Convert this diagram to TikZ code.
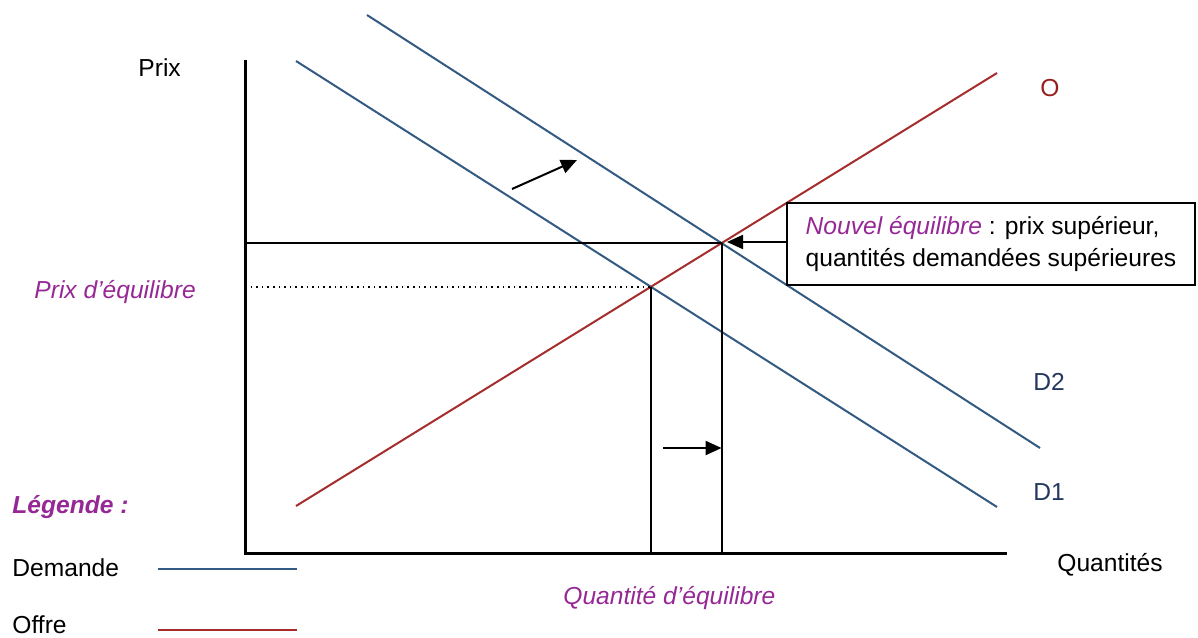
\documentclass[tikz,border=0pt]{standalone}
\usepackage{fontspec}
\setmainfont{Liberation Sans}
\usetikzlibrary{arrows.meta}
\definecolor{demblue}{RGB}{50,90,130}
\definecolor{offred}{RGB}{165,45,45}
\definecolor{labblue}{RGB}{35,55,95}
\definecolor{labred}{RGB}{150,30,30}
\definecolor{purp}{RGB}{150,40,150}
\tikzset{
  axis/.style={line width=1.5pt,black},
  dem/.style={line width=1pt,demblue},
  off/.style={line width=1pt,offred},
  guide/.style={line width=0.9pt,black},
  dotguide/.style={line width=0.8pt,black,dotted},
  arr/.style={line width=1pt,black,-{Triangle[length=8pt,width=7pt]}},
  txt/.style={font=\fontsize{12.3}{16}\selectfont,inner sep=0pt,anchor=west},
  ptxt/.style={txt,text=purp,font=\fontsize{12.3}{16}\selectfont\itshape},
}
\begin{document}
\begin{tikzpicture}[x=0.5pt,y=-0.5pt]
\useasboundingbox (0,0) rectangle (1198,637);
% axes
\coordinate (ax0) at (245,553);
\coordinate (axY) at (245,60);
\coordinate (axX) at (1007,553);
\draw[axis] (axY) -- (ax0) -- (axX);
% curves
\coordinate (d1a) at (296,61);
\coordinate (d1b) at (997,507);
\coordinate (d2a) at (367,15);
\coordinate (d2b) at (1040,448);
\coordinate (oa) at (296,506);
\coordinate (ob) at (997,73);
\draw[dem] (d1a) -- (d1b);
\draw[dem] (d2a) -- (d2b);
\draw[off] (oa) -- (ob);
\coordinate (e1) at (intersection of d1a--d1b and oa--ob);
\coordinate (e2) at (intersection of d2a--d2b and oa--ob);
% guides
\draw[dotguide] (e1 -| ax0) -- (e1);
\draw[guide] (e2 -| ax0) -- (e2);
\draw[guide] (e1) -- (e1 |- ax0);
\draw[guide] (e2) -- (e2 |- ax0);
% shift arrows
\coordinate (sa) at (663,448);
\draw[arr] (sa) -- (sa -| e2);
\coordinate (da) at (512,189);
\coordinate (db) at (577,160);
\draw[arr] (da) -- (db);
% box
\node[draw=black,line width=0.9pt,minimum width=204pt,minimum height=41pt,inner sep=0pt,
      align=left,font=\fontsize{12.3}{16}\selectfont] (box) at (991,244)
  {{\color{purp}\itshape Nouvel équilibre} : prix supérieur,\\quantités demandées supérieures};
\coordinate (tipE) at (727,242);
\draw[arr] (box.west |- tipE) -- (tipE);
% labels
\node[txt] (prix) at (138,68) {Prix};
\node[txt] (quant) at (1057,565) {Quantités};
\node[txt,text=labred] (lO) at (1040,88) {O};
\node[txt,text=labblue] (lD2) at (1033,382) {D2};
\node[txt,text=labblue] (lD1) at (1033,492) {D1};
\node[ptxt] (peq) at (34,292) {Prix d'équilibre};
\node[ptxt] (qeq) at (563,598) {Quantité d'équilibre};
\node[txt,text=purp,font=\fontsize{12.3}{16}\selectfont\bfseries\itshape] (leg) at (12,507) {Légende :};
\node[txt] (ldem) at (12,568) {Demande};
\node[txt] (loff) at (12,625) {Offre};
\coordinate (l1a) at (158,569);
\coordinate (l1b) at (297,569);
\coordinate (l2a) at (158,630);
\coordinate (l2b) at (297,630);
\draw[dem] (l1a) -- (l1b);
\draw[off] (l2a) -- (l2b);
\end{tikzpicture}
\end{document}
